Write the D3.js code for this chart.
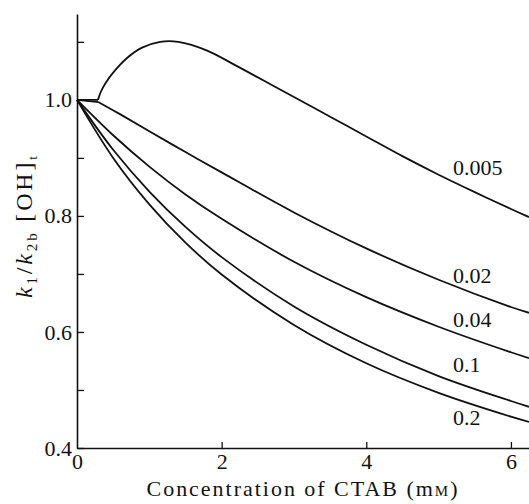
<!DOCTYPE html>
<meta charset="utf-8">
<script src="https://d3js.org/d3.v7.min.js"></script>
<style>
  body { margin: 0; background: #fff; }
</style>
<div id="my_dataviz"></div>
<script>

// concentration of CTAB (mM) and k1/k2b[OH]t, one pair per curve
var conc_0005  = [0, 0.29, 0.33, 0.4, 0.5, 0.7, 0.9, 1.15, 1.4, 1.8, 2.2, 2.6, 3, 3.5, 4, 4.5, 5, 5.5, 6, 6.25];
var ratio_0005 = [1.0, 1.0, 1.014, 1.03, 1.047, 1.073, 1.09, 1.1, 1.1, 1.085, 1.059, 1.032, 1.005, 0.971, 0.937, 0.903, 0.871, 0.841, 0.812, 0.798];

var conc_002  = [0, 0.3, 0.6, 1, 1.5, 2, 3, 4, 5, 6, 6.25];
var ratio_002 = [1.0, 0.996, 0.975, 0.946, 0.910, 0.875, 0.806, 0.744, 0.690, 0.643, 0.633];

var conc = [0, 0.5, 1, 1.5, 2, 3, 4, 5, 6, 6.25];
var ratio_004 = [1.0, 0.939, 0.885, 0.837, 0.795, 0.721, 0.660, 0.609, 0.565, 0.555];
var ratio_01  = [1.0, 0.914, 0.842, 0.781, 0.729, 0.644, 0.578, 0.524, 0.481, 0.471];
var ratio_02  = [1.0, 0.900, 0.820, 0.754, 0.699, 0.612, 0.546, 0.495, 0.454, 0.445];

var curveNames = ["0.005", "0.02", "0.04", "0.1", "0.2"];

// where the curve names sit (data units, baseline)
var labelX = 5.2;
var labelY = [0.871, 0.684, 0.609, 0.531, 0.440];

var yTicks = [0.4, 0.5, 0.6, 0.7, 0.8, 0.9, 1.0, 1.1];
var yLabelled = [0.4, 0.6, 0.8, 1.0];
var xTicks = [0, 2, 4, 6];

var series = [
  {x: conc_0005, y: ratio_0005, kink: 1},
  {x: conc_002,  y: ratio_002,  kink: 1},
  {x: conc,      y: ratio_004,  kink: 0},
  {x: conc,      y: ratio_01,   kink: 0},
  {x: conc,      y: ratio_02,   kink: 0}
];

var W = 529, H = 504;
var serif = '"Liberation Serif", "DejaVu Serif", "Times New Roman", serif';

var svg = d3.select("#my_dataviz")
  .append("svg")
    .attr("width", W)
    .attr("height", H)
    .style("font-family", serif);

svg.append("rect").attr("width", W).attr("height", H).attr("fill", "#fff");

var x = d3.scaleLinear().domain([0, 6.25]).range([77, 529]);
var y = d3.scaleLinear().domain([0.4, 1.148]).range([448, 14]);

// Y axis, ticks pointing inwards
var yAxis = svg.append("g")
  .attr("transform", "translate(" + x(0) + ",0)")
  .call(d3.axisLeft(y)
    .tickValues(yTicks)
    .tickSize(-7)
    .tickSizeOuter(0)
    .tickPadding(5)
    .tickFormat(function(d) {
      return yLabelled.some(function(v) { return Math.abs(v - d) < 1e-9; }) ? d.toFixed(1) : "";
    }));

// X axis
var xAxis = svg.append("g")
  .attr("transform", "translate(0," + y(0.4) + ")")
  .call(d3.axisBottom(x)
    .tickValues(xTicks)
    .tickSize(-6)
    .tickSizeOuter(0)
    .tickPadding(5)
    .tickFormat(d3.format("d")));

xAxis.select(".tick").select("line").remove();

[yAxis, xAxis].forEach(function(g) {
  g.attr("font-size", null).attr("font-family", null);
  g.select(".domain").attr("stroke", "#111").attr("stroke-width", 1.6);
  g.selectAll(".tick line").attr("stroke", "#111").attr("stroke-width", 1.3);
  g.selectAll(".tick text")
    .style("font-family", serif)
    .style("font-size", "22px")
    .attr("fill", "#111");
});

// curves
var smooth = d3.line()
  .x(function(d) { return x(d[0]); })
  .y(function(d) { return y(d[1]); })
  .curve(d3.curveCatmullRom.alpha(0.5));

var straight = d3.line()
  .x(function(d) { return x(d[0]); })
  .y(function(d) { return y(d[1]); });

series.forEach(function(s) {
  var pts = s.x.map(function(v, i) { return [v, s.y[i]]; });
  var d = smooth(pts.slice(s.kink));
  if (s.kink > 0) d = straight(pts.slice(0, s.kink + 1)) + d;
  svg.append("path")
    .attr("d", d)
    .attr("fill", "none")
    .attr("stroke", "#111")
    .attr("stroke-width", 1.8)
    .attr("stroke-linejoin", "round");
});

// curve names
svg.selectAll(".curveName")
  .data(curveNames)
  .enter()
  .append("text")
    .attr("class", "curveName")
    .attr("x", x(labelX))
    .attr("y", function(d, i) { return y(labelY[i]); })
    .attr("fill", "#111")
    .style("font-family", serif)
    .style("font-size", "22px")
    .text(function(d) { return d; });

// x title
var xt = svg.append("text")
  .attr("x", 302)
  .attr("y", 496)
  .attr("text-anchor", "middle")
  .attr("textLength", 311)
  .attr("lengthAdjust", "spacing")
  .attr("fill", "#111")
  .style("font-family", serif)
  .style("font-size", "22px");
xt.append("tspan").text("Concentration of CTAB (m");
xt.append("tspan").style("font-size", "15px").text("M");
xt.append("tspan").text(")");

// y title
var yt = svg.append("text")
  .attr("transform", "translate(32,227) rotate(-90)")
  .attr("text-anchor", "middle")
  .attr("textLength", 142)
  .attr("lengthAdjust", "spacing")
  .attr("fill", "#111")
  .style("font-family", serif)
  .style("font-size", "24px");
yt.append("tspan").style("font-style", "italic").text("k");
yt.append("tspan").attr("dy", 5).style("font-size", "15px").text("1");
yt.append("tspan").attr("dy", -5).text("/");
yt.append("tspan").style("font-style", "italic").text("k");
yt.append("tspan").attr("dy", 5).style("font-size", "15px").text("2b");
yt.append("tspan").attr("dy", -5).text(" [OH]");
yt.append("tspan").attr("dy", 5).style("font-size", "13px").text("t");

</script>
